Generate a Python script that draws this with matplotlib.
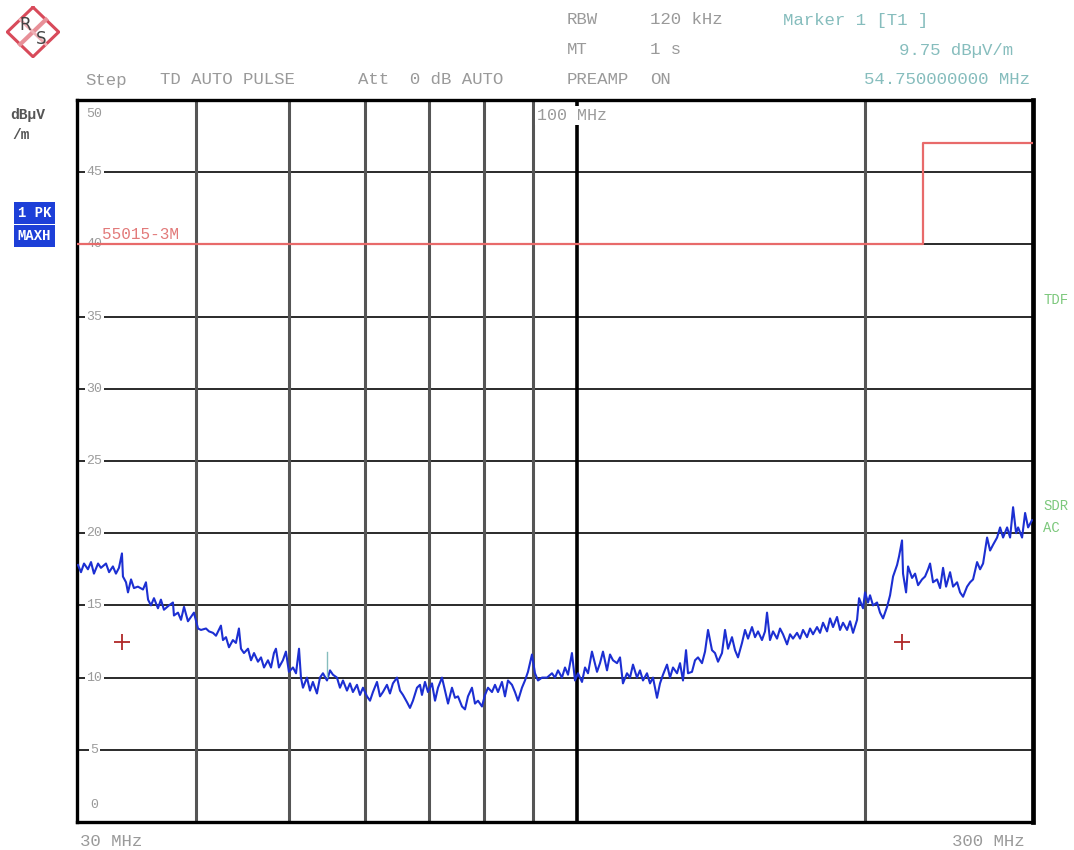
#%%
import numpy as np
import matplotlib.pyplot as plt
from matplotlib.ticker import NullLocator

# Screenshot size (pixels) - used for placing the header / footer texts
W, H = 1074, 850

# Peak (MAXH) trace: frequency [MHz], level [dBuV/m]
freq_mhz = [
    30.07, 30.29, 30.51, 30.80, 31.03, 31.25, 31.56, 31.78, 32.17, 32.41,
    32.71, 32.95, 33.19, 33.43, 33.51, 33.76, 33.92, 34.17, 34.41, 34.74,
    35.17, 35.42, 35.60, 35.85, 36.11, 36.46, 36.72, 36.99, 37.44, 37.80,
    37.89, 38.26, 38.54, 38.82, 39.19, 39.48, 39.76, 40.15, 40.44, 40.93,
    41.23, 41.62, 41.93, 42.43, 42.64, 42.95, 43.26, 43.67, 43.99, 44.31,
    44.53, 44.85, 45.29, 45.62, 45.95, 46.39, 46.73, 47.07, 47.52, 47.87,
    48.21, 48.44, 48.79, 49.26, 49.62, 49.98, 50.47, 50.84, 51.21, 51.45,
    51.70, 52.20, 52.58, 52.95, 53.47, 53.86, 54.25, 54.78, 55.18, 55.57,
    56.11, 56.52, 56.93, 57.48, 57.90, 58.31, 58.88, 59.31, 59.74, 60.32,
    60.76, 61.19, 61.79, 62.24, 62.68, 63.29, 63.75, 64.21, 64.84, 65.31,
    65.78, 66.42, 66.90, 67.38, 68.04, 68.53, 68.86, 69.36, 69.87, 70.54,
    71.06, 71.57, 72.26, 72.79, 73.32, 74.02, 74.56, 75.10, 75.83, 76.38,
    76.93, 77.67, 78.24, 78.81, 79.57, 80.15, 80.73, 81.51, 82.10, 82.70,
    83.49, 84.10, 84.71, 85.53, 86.15, 86.78, 87.61, 88.25, 88.89, 89.75,
    90.40, 91.06, 91.94, 93.06, 94.18, 94.87, 95.56, 96.47, 97.18, 97.89,
    98.82, 99.55, 100.27, 101.24, 101.98, 102.72, 103.70, 104.97, 105.73, 106.49,
    107.53, 108.31, 109.09, 110.15, 110.95, 111.74, 112.83, 113.65, 114.47, 115.58,
    116.42, 117.26, 118.40, 119.26, 120.12, 121.29, 122.17, 123.05, 124.25, 125.15,
    126.05, 127.28, 128.20, 129.12, 130.07, 130.69, 131.95, 132.92, 133.88, 135.17,
    136.16, 137.15, 138.46, 139.47, 140.49, 141.84, 142.88, 143.92, 145.30, 146.36,
    147.42, 148.84, 149.93, 151.02, 152.47, 153.59, 154.70, 156.18, 157.33, 158.09,
    159.23, 160.39, 161.95, 163.12, 164.30, 165.90, 167.10, 168.30, 169.94, 171.17,
    172.41, 174.09, 175.35, 176.61, 178.33, 179.62, 180.92, 182.68, 184.00, 185.33,
    187.13, 188.48, 189.85, 191.70, 193.09, 194.48, 196.37, 197.32, 199.22, 200.19,
    201.64, 202.61, 204.07, 206.06, 207.55, 209.06, 211.09, 212.62, 214.16, 216.24,
    217.28, 218.84, 219.37, 220.98, 222.04, 224.18, 225.82, 227.46, 229.64, 231.32,
    233.00, 234.12, 235.81, 238.11, 239.83, 241.57, 243.33, 245.68, 247.46, 249.87,
    251.68, 253.49, 255.96, 257.81, 259.67, 262.20, 264.10, 266.01, 268.60, 270.54,
    272.50, 275.15, 277.14, 279.14, 281.86, 283.90, 285.95, 288.03, 289.43, 292.21,
    294.35, 296.48, 299.30,
]
level_dbuv = [
    17.8, 17.3, 17.9, 17.5, 18.0, 17.2, 17.9, 17.6, 17.9, 17.3,
    17.7, 17.2, 17.6, 18.6, 17.0, 16.6, 15.9, 16.8, 16.2, 16.3,
    16.1, 16.6, 15.4, 15.0, 15.5, 14.8, 15.4, 14.7, 15.0, 15.2,
    14.3, 14.5, 14.0, 14.9, 13.9, 14.2, 14.5, 13.4, 13.3, 13.4,
    13.2, 13.1, 12.9, 13.6, 12.6, 12.8, 12.1, 12.6, 12.4, 13.4,
    12.0, 11.7, 12.0, 11.2, 11.7, 11.1, 11.4, 10.7, 11.2, 10.7,
    11.7, 12.0, 10.7, 11.2, 11.8, 10.4, 10.7, 10.3, 12.0, 10.0,
    9.3, 10.0, 9.1, 9.7, 8.9, 10.0, 10.3, 9.8, 10.5, 10.2,
    10.0, 9.3, 9.8, 9.1, 9.6, 9.0, 9.5, 8.8, 9.3, 8.7,
    8.4, 9.0, 9.7, 8.7, 9.0, 9.5, 8.9, 9.6, 10.0, 9.1,
    8.8, 8.3, 7.9, 8.4, 9.3, 9.5, 8.8, 9.7, 9.0, 9.6,
    8.4, 9.3, 10.0, 9.1, 8.2, 9.3, 8.6, 8.7, 8.0, 7.8,
    8.7, 9.3, 8.2, 8.4, 8.0, 8.8, 9.3, 9.0, 9.5, 9.0,
    9.7, 8.7, 9.8, 9.5, 9.0, 8.4, 9.3, 9.8, 10.4, 11.6,
    10.3, 9.8, 10.0, 10.0, 10.3, 10.0, 10.5, 10.0, 10.7, 10.2,
    11.7, 9.8, 10.3, 9.7, 10.7, 10.3, 11.8, 10.4, 11.0, 11.8,
    10.5, 11.6, 11.2, 11.0, 11.4, 9.6, 10.3, 10.0, 10.9, 10.0,
    10.5, 9.8, 10.3, 9.6, 10.0, 8.6, 9.6, 10.2, 10.9, 10.0,
    10.7, 10.3, 11.0, 9.8, 11.9, 10.3, 10.4, 11.2, 11.4, 11.0,
    11.8, 13.3, 11.9, 11.7, 11.1, 11.7, 13.3, 12.0, 12.8, 11.9,
    11.4, 12.4, 13.3, 12.7, 13.5, 12.8, 13.2, 12.6, 13.2, 14.5,
    12.6, 13.2, 12.7, 13.4, 13.0, 12.3, 13.0, 12.7, 13.1, 12.7,
    13.3, 12.8, 13.4, 13.0, 13.5, 13.1, 13.8, 13.2, 14.1, 13.5,
    14.2, 13.3, 13.8, 13.3, 13.9, 13.1, 14.0, 15.5, 14.8, 15.9,
    15.2, 15.7, 15.0, 15.2, 14.5, 14.1, 14.9, 15.7, 17.0, 17.8,
    18.4, 19.5, 17.2, 15.9, 17.7, 16.9, 17.2, 16.4, 16.8, 17.0,
    17.5, 17.9, 16.6, 16.8, 16.2, 17.6, 16.3, 17.3, 16.3, 16.6,
    15.9, 15.6, 16.3, 16.6, 16.8, 18.0, 17.5, 17.9, 19.7, 18.8,
    19.2, 19.7, 20.4, 19.7, 20.4, 19.7, 21.8, 20.0, 20.4, 19.7,
    21.4, 20.4, 20.9,
]

# EN 55015 limit line (3 m)
limit_freq = [30, 230, 230, 300]
limit_level = [40, 40, 47, 47]

# final measurement points (red crosses)
final_freq = [33.4, 219.0]
final_level = [12.5, 12.5]

# marker 1
marker_freq = 54.75
marker_level = 9.75

y_ticks = [0, 5, 10, 15, 20, 25, 30, 35, 40, 45, 50]
x_grid = [40, 50, 60, 70, 80, 90, 200]

mono = 'Liberation Mono'
gray = '#9a9a9a'
teal = '#86bdbd'
green = '#7cc87c'

#%%
fig = plt.figure(figsize=(W / 100, H / 100), dpi=100)
fig.patch.set_facecolor('white')

def fx(px):
    return px / W

def fy(py):
    return 1 - py / H

ax = fig.add_axes([fx(77), fy(822), (1033 - 77) / W, (822 - 100) / H])
ax.set_xscale('log')
ax.set_xlim(30, 300)
ax.set_ylim(0, 50)
ax.xaxis.set_minor_locator(NullLocator())
ax.tick_params(which='both', length=0, labelbottom=False, labelleft=False)
for side in ['left', 'top', 'bottom']:
    ax.spines[side].set_linewidth(2.4)
ax.spines['right'].set_linewidth(3.4)

# grid
for v in y_ticks[1:-1]:
    ax.axhline(v, color='#2a2a2a', lw=1.4, zorder=1)
for f in x_grid:
    ax.axvline(f, color='#555555', lw=2.2, zorder=1)
ax.axvline(100, color='black', lw=2.6, zorder=1)

# y labels sit inside the diagram
for v in y_ticks:
    yy = v
    if v == 50:
        yy = 49.0
    elif v == 0:
        yy = 1.2
    ax.text(0.018, yy, str(v), transform=ax.get_yaxis_transform(), ha='center', va='center',
            fontsize=9.5, family=mono, color=gray, zorder=2,
            bbox=dict(boxstyle='square,pad=0.12', fc='white', ec='none'))

# limit line + label
ax.plot(limit_freq, limit_level, color='#e86a6a', lw=1.6, zorder=3)
ax.text(31.9, 40.7, '55015-3M', fontsize=11.5, family=mono, color='#e27a7a', va='center', zorder=3)

# trace
ax.plot(freq_mhz, level_dbuv, color='#1c2fd2', lw=1.5, zorder=4)
ax.plot([marker_freq, marker_freq], [marker_level + 0.3, marker_level + 2.0], color=teal, lw=1.0, zorder=5)
ax.plot(final_freq, final_level, '+', color='#b02828', ms=12, mew=1.3, zorder=5)

#%% header texts
hdr = dict(fontsize=12.5, family=mono, color=gray, va='center')
fig.text(fx(85), fy(80), 'Step', **hdr)
fig.text(fx(160), fy(80), 'TD AUTO PULSE', **hdr)
fig.text(fx(358), fy(80), 'Att  0 dB AUTO', **hdr)
fig.text(fx(567), fy(20), 'RBW', **hdr)
fig.text(fx(650), fy(20), '120 kHz', **hdr)
fig.text(fx(567), fy(50), 'MT', **hdr)
fig.text(fx(650), fy(50), '1 s', **hdr)
fig.text(fx(567), fy(80), 'PREAMP', **hdr)
fig.text(fx(650), fy(80), 'ON', **hdr)
fig.text(fx(783), fy(20), 'Marker 1 [T1 ]', fontsize=12.5, family=mono, color=teal, va='center')
fig.text(fx(1013), fy(50), '9.75 dBµV/m', fontsize=12.5, family=mono, color=teal, va='center', ha='right')
fig.text(fx(1030), fy(80), '54.750000000 MHz', fontsize=12.5, family=mono, color=teal, va='center', ha='right')

fig.text(fx(537), fy(115), '100 MHz', fontsize=12, family=mono, color=gray, va='center',
         bbox=dict(boxstyle='square,pad=0.12', fc='white', ec='none'))

# left side
fig.text(fx(10), fy(115), 'dBµV', fontsize=10.5, family=mono, color='#555555', va='center', weight='bold')
fig.text(fx(12), fy(135), '/m', fontsize=10.5, family=mono, color='#555555', va='center', weight='bold')
fig.text(fx(34.5), fy(213), '1 PK', fontsize=10, family=mono, color='white', weight='bold', ha='center', va='center',
         bbox=dict(boxstyle='square,pad=0.3', fc='#1d3fd8', ec='none'))
fig.text(fx(34.5), fy(236), 'MAXH', fontsize=10, family=mono, color='white', weight='bold', ha='center', va='center',
         bbox=dict(boxstyle='square,pad=0.3', fc='#1d3fd8', ec='none'))

# right side
fig.text(fx(1043), fy(300), 'TDF', fontsize=10, family=mono, color=green, va='center')
fig.text(fx(1043), fy(506), 'SDR', fontsize=10, family=mono, color=green, va='center')
fig.text(fx(1043), fy(528), 'AC', fontsize=10, family=mono, color=green, va='center')

# bottom
fig.text(fx(80), fy(842), '30 MHz', **hdr)
fig.text(fx(1025), fy(842), '300 MHz', fontsize=12.5, family=mono, color=gray, va='center', ha='right')

#%% R&S logo
lax = fig.add_axes([fx(6), fy(58), 54 / W, 52 / H])
lax.set_xlim(-1.05, 1.05)
lax.set_ylim(-1.05, 1.05)
lax.axis('off')
lax.plot([0, 1, 0, -1, 0], [1, 0, -1, 0, 1], color='#d84a5a', lw=2.2)
lax.plot([-0.5, 0.5], [-0.5, 0.5], color='#e89098', lw=3.0)
lax.plot([-0.5, 0.5], [0.5, -0.5], color='#eeb0b5', lw=2.0)
lax.text(-0.32, 0.3, 'R', fontsize=12, color='#444444', ha='center', va='center', family='DejaVu Sans')
lax.text(0.32, -0.3, 'S', fontsize=12, color='#444444', ha='center', va='center', family='DejaVu Sans')

plt.savefig('out.png', dpi=100)
